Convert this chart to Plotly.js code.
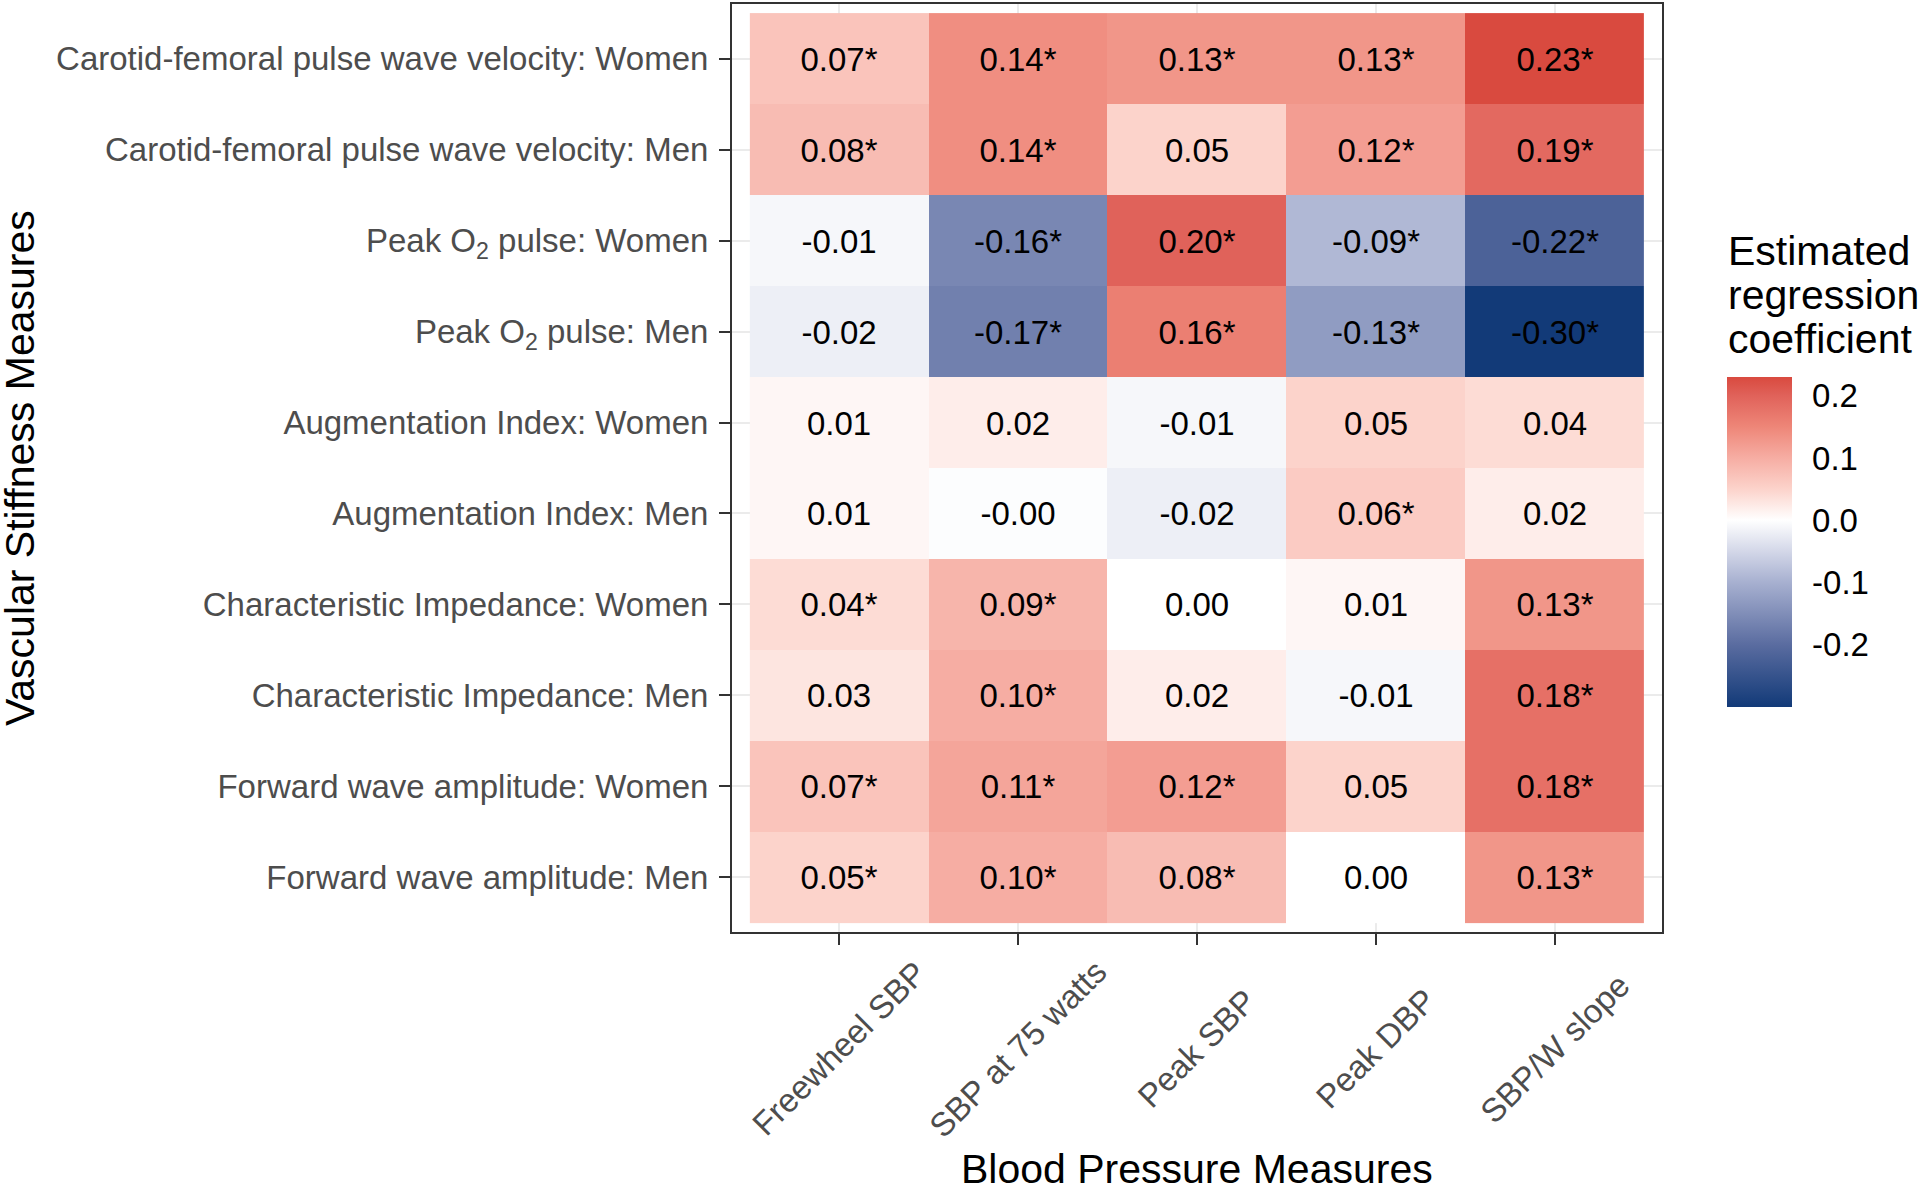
<!DOCTYPE html>
<html>
<head>
<meta charset="utf-8">
<script src="https://cdn.plot.ly/plotly-3.0.1.min.js"></script>
<style>
  html, body { margin: 0; padding: 0; background: #ffffff; }
  #chart { width: 1920px; height: 1186px; }
</style>
</head>
<body>
<div id="chart"></div>
<script>
// Blood pressure measures (columns)
const bpMeasures = ["Freewheel SBP", "SBP at 75 watts", "Peak SBP", "Peak DBP", "SBP/W slope"];

// Vascular stiffness measures (rows, top to bottom)
const stiffnessMeasures = [
    "Carotid-femoral pulse wave velocity: Women",
    "Carotid-femoral pulse wave velocity: Men",
    "Peak O<sub>2</sub> pulse: Women",
    "Peak O<sub>2</sub> pulse: Men",
    "Augmentation Index: Women",
    "Augmentation Index: Men",
    "Characteristic Impedance: Women",
    "Characteristic Impedance: Men",
    "Forward wave amplitude: Women",
    "Forward wave amplitude: Men"
];

// Estimated regression coefficients, one row per stiffness measure
const coefficients = [
    [0.07, 0.14, 0.13, 0.13, 0.23],
    [0.08, 0.14, 0.05, 0.12, 0.19],
    [-0.01, -0.16, 0.20, -0.09, -0.22],
    [-0.02, -0.17, 0.16, -0.13, -0.30],
    [0.01, 0.02, -0.01, 0.05, 0.04],
    [0.01, -0.003, -0.02, 0.06, 0.02],
    [0.04, 0.09, 0.00, 0.01, 0.13],
    [0.03, 0.10, 0.02, -0.01, 0.18],
    [0.07, 0.11, 0.12, 0.05, 0.18],
    [0.05, 0.10, 0.08, 0.00, 0.13]
];

// Statistical significance flags (drawn as "*")
const significant = [
    [1, 1, 1, 1, 1],
    [1, 1, 0, 1, 1],
    [0, 1, 1, 1, 1],
    [0, 1, 1, 1, 1],
    [0, 0, 0, 0, 0],
    [0, 0, 0, 1, 0],
    [1, 1, 0, 0, 1],
    [0, 1, 0, 0, 1],
    [1, 1, 1, 0, 1],
    [1, 1, 1, 0, 1]
];

// Colour bar tick values and legend title lines
const legendTicks = [-0.2, -0.1, 0.0, 0.1, 0.2];
const legendTitleLines = ["Estimated", "regression", "coefficient"];

const FONT = "Liberation Sans, Arial, Helvetica, sans-serif";
const zMin = -0.30, zMax = 0.23;

// plot area in page pixels (used to place the legend / titles)
const plotL = 732, plotR = 1662, plotT = 4, plotB = 932;
const plotW = plotR - plotL, plotH = plotB - plotT;
const legendX = (1727 - plotL) / plotW;

// diverging blue-white-red, stops given in data units
const stopVals = [-0.30, -0.20, -0.10, -0.05, 0.0, 0.05, 0.10, 0.15, 0.20, 0.23];
const stopCols = ["#123a78", "#5a6ca0", "#a7b0d0", "#d3d7e8", "#ffffff",
                  "#fcd3cb", "#f6ada3", "#ee8678", "#e0625a", "#d94a3f"];
const colorscale = stopVals.map((v, i) => [(v - zMin) / (zMax - zMin), stopCols[i]]);

const cellText = coefficients.map((row, r) =>
    row.map((v, c) => v.toFixed(2) + (significant[r][c] ? "*" : "")));

const trace = {
    type: "heatmap",
    x: bpMeasures,
    y: stiffnessMeasures,
    z: coefficients,
    text: cellText,
    texttemplate: "%{text}",
    textfont: { family: FONT, size: 33, color: "#000000" },
    zmin: zMin,
    zmax: zMax,
    colorscale: colorscale,
    hoverinfo: "skip",
    colorbar: {
        x: legendX,
        xanchor: "left",
        y: (plotB - 542) / plotH,
        yanchor: "middle",
        len: 330,
        lenmode: "pixels",
        thickness: 65,
        thicknessmode: "pixels",
        outlinewidth: 0,
        xpad: 0,
        ypad: 0,
        tickvals: legendTicks,
        ticktext: legendTicks.map((t) => t.toFixed(1)),
        ticks: "outside",
        ticklen: 14,
        tickwidth: 1,
        tickcolor: "rgba(0,0,0,0)",
        tickfont: { family: FONT, size: 33, color: "#000000" }
    }
};

// rotated x labels, centred under each tick like the ggplot original
const annotations = bpMeasures.map((name) => ({
    x: name,
    xref: "x",
    y: -0.126,
    yref: "paper",
    text: name,
    textangle: -45,
    showarrow: false,
    xanchor: "center",
    yanchor: "middle",
    font: { family: FONT, size: 33, color: "#4d4d4d" }
}));

annotations.push({
    x: 0.5, xref: "paper",
    y: -0.2554, yref: "paper",
    text: "Blood Pressure Measures",
    showarrow: false,
    xanchor: "center", yanchor: "middle",
    font: { family: FONT, size: 41, color: "#000000" }
});
annotations.push({
    x: (20 - plotL) / plotW, xref: "paper",
    y: 0.5, yref: "paper",
    text: "Vascular Stiffness Measures",
    textangle: -90,
    showarrow: false,
    xanchor: "center", yanchor: "middle",
    font: { family: FONT, size: 41, color: "#000000" }
});

// legend title, one line each (ggplot uses tighter line spacing than plotly)
legendTitleLines.forEach((line, i) => {
    annotations.push({
        x: legendX, xref: "paper",
        y: (plotB - (251 + i * 44)) / plotH, yref: "paper",
        text: line,
        showarrow: false,
        xanchor: "left", yanchor: "middle",
        borderpad: 0,
        font: { family: FONT, size: 41, color: "#000000" }
    });
});

const axisCommon = {
    type: "category",
    showgrid: true,
    gridcolor: "#ebebeb",
    gridwidth: 2,
    showline: true,
    mirror: true,
    linecolor: "#333333",
    linewidth: 2,
    ticks: "outside",
    ticklen: 11,
    tickwidth: 2,
    tickcolor: "#333333",
    zeroline: false,
    fixedrange: true
};

const layout = {
    width: 1920,
    height: 1186,
    margin: { l: plotL, r: 1920 - plotR, t: plotT, b: 1186 - plotB },
    paper_bgcolor: "#ffffff",
    plot_bgcolor: "#ffffff",
    font: { family: FONT },
    xaxis: Object.assign({}, axisCommon, {
        range: [-0.6, bpMeasures.length - 0.4],
        showticklabels: false
    }),
    yaxis: Object.assign({}, axisCommon, {
        range: [stiffnessMeasures.length - 0.4, -0.6],
        tickfont: { family: FONT, size: 33, color: "#4d4d4d" },
        ticklabelstandoff: 4
    }),
    annotations: annotations,
    showlegend: false
};

Plotly.newPlot("chart", [trace], layout, { staticPlot: true, displayModeBar: false });
</script>
</body>
</html>
